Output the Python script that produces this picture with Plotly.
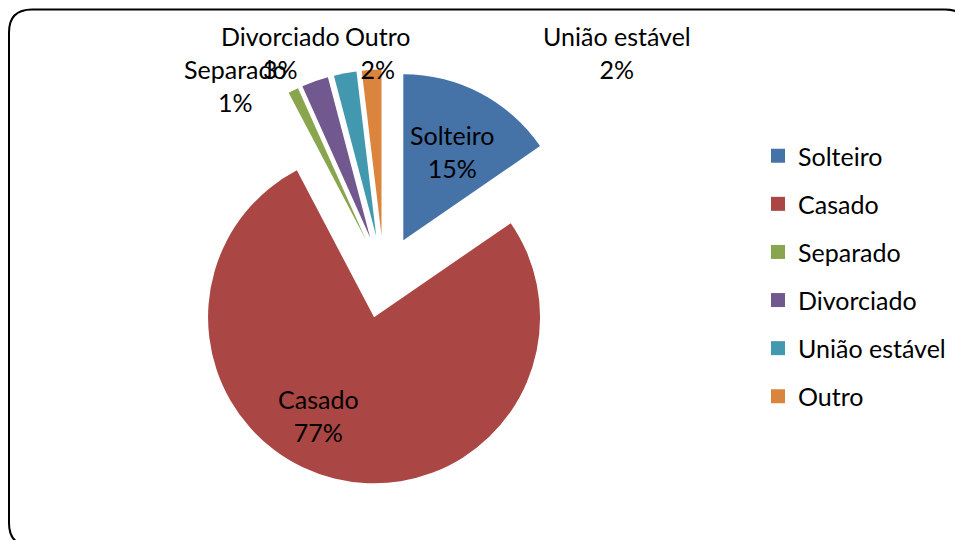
import plotly.graph_objects as go

categories = ["Solteiro", "Casado", "Separado", "Divorciado", "União estável", "Outro"]
values = [15.4, 76.9, 1.0, 2.6, 2.2, 1.9]
colors = ["#4572A7", "#AA4643", "#89A54E", "#71588F", "#4198AF", "#DB843D"]

W, H = 955, 540
FONT = "Lato"
FS = 25


def px(x):
    return x / W


def py(y):
    return 1 - y / H


total = sum(values)
pct = [f"{round(v / total * 100)}%" for v in values]

fig = go.Figure()

fig.add_trace(go.Pie(
    labels=categories,
    values=values,
    sort=False,
    direction="clockwise",
    rotation=0,
    pull=[0.25] * len(values),
    marker=dict(colors=colors, line=dict(width=0)),
    textinfo="none",
    domain=dict(x=[px(176.5), px(591.5)], y=[py(484.5), py(69.5)]),
    showlegend=False,
    hoverinfo="label+percent",
))

# legend entries
for name, col in zip(categories, colors):
    fig.add_trace(go.Scatter(
        x=[None], y=[None], mode="markers", name=name,
        legendgroup=name, showlegend=True,
        marker=dict(symbol="square", size=14, color=col),
    ))

# data labels (Excel-like placement)
label_pos = {
    "Solteiro": (452, 152),
    "Casado": (318, 415),
    "Separado": (235, 86),
    "Divorciado": (280, 53),
    "Outro": (378, 53),
    "União estável": (617, 53),
}
annotations = []
for name, p in zip(categories, pct):
    x, y = label_pos[name]
    annotations.append(dict(
        x=px(x), y=py(y), xref="paper", yref="paper",
        text=f"{name}<br>{p}", showarrow=False,
        xanchor="center", yanchor="middle", align="center",
        font=dict(family=FONT, size=FS, color="black"),
    ))

# rounded border
x0, x1, y0, y1, r = 9, 968, 9.5, 546, 23
path = (
    f"M {px(x0)},{py(y0 + r)} "
    f"Q {px(x0)},{py(y0)} {px(x0 + r)},{py(y0)} "
    f"L {px(x1 - r)},{py(y0)} "
    f"Q {px(x1)},{py(y0)} {px(x1)},{py(y0 + r)} "
    f"L {px(x1)},{py(y1 - r)} "
    f"Q {px(x1)},{py(y1)} {px(x1 - r)},{py(y1)} "
    f"L {px(x0 + r)},{py(y1)} "
    f"Q {px(x0)},{py(y1)} {px(x0)},{py(y1 - r)} Z"
)

fig.update_layout(
    width=W, height=H,
    margin=dict(l=0, r=0, t=0, b=0),
    paper_bgcolor="white",
    plot_bgcolor="white",
    xaxis=dict(visible=False),
    yaxis=dict(visible=False),
    showlegend=True,
    legend=dict(
        x=px(758), y=py(133), xanchor="left", yanchor="top",
        font=dict(family=FONT, size=FS, color="black"),
        traceorder="grouped", tracegroupgap=12.6,
        bgcolor="rgba(0,0,0,0)",
    ),
    annotations=annotations,
    shapes=[dict(type="path", path=path, xref="paper", yref="paper",
                 line=dict(color="black", width=2), fillcolor="rgba(0,0,0,0)")],
)

fig.write_html("out.html", config={"displayModeBar": False},
               post_script="document.body.style.margin='0';")
